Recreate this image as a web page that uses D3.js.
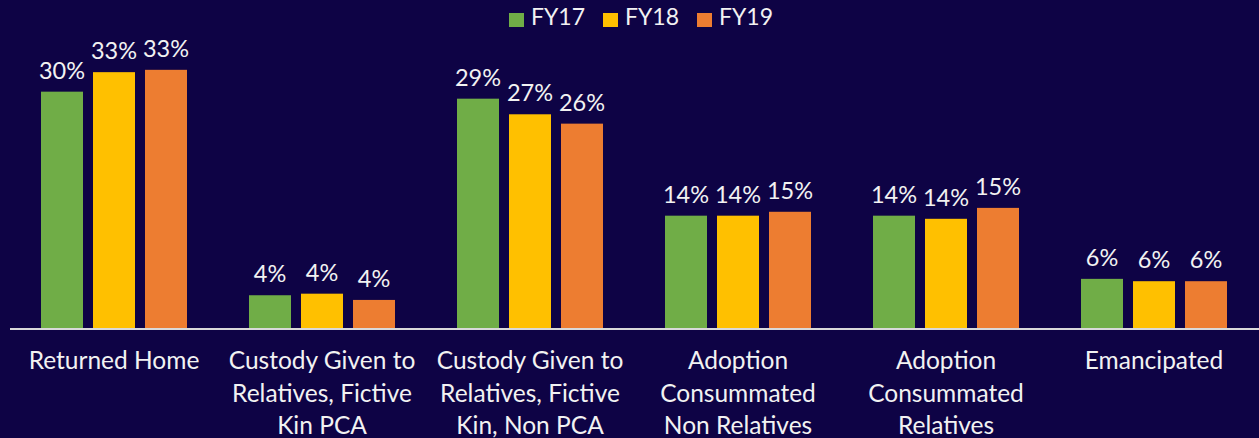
<!DOCTYPE html>
<html>
<head>
<meta charset="utf-8">
<script src="https://cdn.jsdelivr.net/npm/d3@7"></script>
<style>
  html, body { margin: 0; padding: 0; background: #0e0345; }
  svg { display: block; }
  text { font-family: Lato, "Open Sans", sans-serif; fill: #f2f2f2; }
</style>
</head>
<body>
<svg id="chart"></svg>
<script>
// categories, one entry per line of the tick label
const categories = [
  ["Returned Home"],
  ["Custody Given to", "Relatives, Fictive", "Kin PCA"],
  ["Custody Given to", "Relatives, Fictive", "Kin, Non PCA"],
  ["Adoption", "Consummated", "Non Relatives"],
  ["Adoption", "Consummated", "Relatives"],
  ["Emancipated"]
]
const seriesNames = ["FY17", "FY18", "FY19"]
const seriesColors = ["#70ad47", "#ffc000", "#ed7d31"]

// percent values
const fy17 = [30.3, 4.2, 29.4, 14.4, 14.4, 6.3]
const fy18 = [32.8, 4.4, 27.4, 14.4, 14.0, 6.0]
const fy19 = [33.1, 3.6, 26.2, 14.9, 15.4, 6.0]

const seriesValues = [fy17, fy18, fy19]

const width = 1259
const height = 438
const baseY = 328

const svg = d3.select("#chart")
  .attr("width", width)
  .attr("height", height)

const keys = categories.map(c => c.join(" "))

const x0 = d3.scaleBand()
  .domain(keys)
  .range([10, 1258])

const x1 = d3.scaleBand()
  .domain(seriesNames)
  .range([31, 177])
  .paddingInner(10 / 52)

const y = d3.scaleLinear()
  .domain([0, 40])
  .range([baseY, baseY - 40 * 7.8])

const rows = []
keys.forEach((k, i) => {
  seriesNames.forEach((s, j) => {
    rows.push({ key: k, series: s, value: seriesValues[j][i], color: seriesColors[j] })
  })
})

const bars = svg.append("g")
bars.selectAll("rect")
  .data(rows)
  .join("rect")
  .attr("x", d => x0(d.key) + x1(d.series))
  .attr("y", d => y(d.value))
  .attr("width", x1.bandwidth())
  .attr("height", d => baseY - y(d.value))
  .attr("fill", d => d.color)

// value labels
svg.append("g")
  .selectAll("text")
  .data(rows)
  .join("text")
  .attr("x", d => x0(d.key) + x1(d.series) + x1.bandwidth() / 2)
  .attr("y", d => y(d.value) - 13)
  .attr("text-anchor", "middle")
  .style("font-size", "23.5px")
  .text(d => Math.round(d.value) + "%")

// baseline
svg.append("line")
  .attr("x1", 10)
  .attr("x2", width)
  .attr("y1", baseY + 1)
  .attr("y2", baseY + 1)
  .attr("stroke", "#d9d9d9")
  .attr("stroke-width", 2)

// category axis
const xAxis = d3.axisBottom(x0).tickSize(0).tickFormat("")
const axisG = svg.append("g")
  .attr("transform", `translate(0, ${baseY})`)
  .call(xAxis)
axisG.select(".domain").remove()

axisG.selectAll(".tick").each(function(d, i) {
  const t = d3.select(this).append("text")
    .attr("text-anchor", "middle")
    .style("font-size", "24.5px")
  categories[i].forEach((line, li) => {
    t.append("tspan")
      .attr("x", 0)
      .attr("y", 41 + li * 32.5)
      .text(line)
  })
})

// legend
const legend = svg.append("g")
const items = legend.selectAll("g")
  .data(seriesNames)
  .join("g")
  .attr("transform", (d, i) => `translate(${509 + i * 94}, 0)`)
items.append("rect")
  .attr("y", 13)
  .attr("width", 15)
  .attr("height", 14)
  .attr("fill", (d, i) => seriesColors[i])
items.append("text")
  .attr("x", 22)
  .attr("y", 25)
  .style("font-size", "23px")
  .text(d => d)
</script>
</body>
</html>
